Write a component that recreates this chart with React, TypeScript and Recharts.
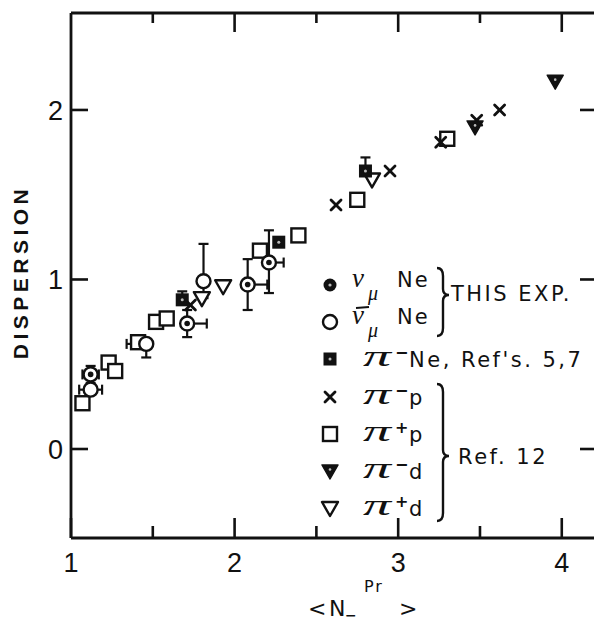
import { ScatterChart, Scatter, XAxis, YAxis, ErrorBar } from 'recharts';

// axis setup
const X_TICKS = [1, 1.5, 2, 2.5, 3, 3.5, 4];
const Y_TICKS = [0, 1, 2];
const X_DOMAIN = [1, 4.197];
const Y_DOMAIN = [-0.525, 2.572];

// nu_mu Ne, this experiment
const nuNe = [
  { x: 1.12, y: 0.44, ex: 0.05, ey: 0.05 },
  { x: 1.71, y: 0.74, ex: [0, 0.12], ey: 0.08 },
  { x: 2.08, y: 0.97, ex: [0, 0.12], ey: 0.15 },
  { x: 2.21, y: 1.1, ex: [0, 0.09], ey: [0.18, 0.19] },
];

// anti-nu_mu Ne, this experiment
const nubarNe = [
  { x: 1.12, y: 0.35, ex: 0.07, ey: 0 },
  { x: 1.46, y: 0.62, ex: [0.12, 0], ey: [0.08, 0] },
  { x: 1.81, y: 0.99, ex: 0, ey: [0.1, 0.22] },
];

// pi- Ne, Ref's 5,7
const piMinusNe = [
  { x: 1.68, y: 0.88, ex: 0, ey: [0, 0.05] },
  { x: 2.27, y: 1.22, ex: 0, ey: 0 },
  { x: 2.8, y: 1.64, ex: 0, ey: [0, 0.08] },
];

// Ref. 12
const piMinusP = [
  { x: 1.73, y: 0.85 },
  { x: 2.62, y: 1.44 },
  { x: 2.95, y: 1.64 },
  { x: 3.26, y: 1.81 },
  { x: 3.48, y: 1.94 },
  { x: 3.62, y: 2.0 },
];
const piPlusP = [
  { x: 1.07, y: 0.27 },
  { x: 1.23, y: 0.51 },
  { x: 1.27, y: 0.46 },
  { x: 1.41, y: 0.63 },
  { x: 1.52, y: 0.75 },
  { x: 1.585, y: 0.77 },
  { x: 2.155, y: 1.17 },
  { x: 2.39, y: 1.26 },
  { x: 2.75, y: 1.47 },
  { x: 3.3, y: 1.83 },
];
const piMinusD = [
  { x: 3.47, y: 1.9 },
  { x: 3.96, y: 2.17 },
];
const piPlusD = [
  { x: 1.8, y: 0.89 },
  { x: 1.93, y: 0.96 },
  { x: 2.84, y: 1.59 },
];

const INK = '#111';
const FONT = '"Liberation Sans", Arial, sans-serif';
const LFONT = '"DejaVu Sans", sans-serif';
const SERIF = '"Liberation Serif", "DejaVu Serif", serif';
const PLOT_W = 523; // plot width, right frame sits at the page edge

// marker shapes
const NuDot = ({ cx, cy, legend }: any) =>
  legend ? (
    <g>
      <circle cx={cx} cy={cy} r={6.5} fill={INK} />
      <circle cx={cx} cy={cy} r={1.6} fill="#bbb" />
    </g>
  ) : (
    <g>
      <circle cx={cx} cy={cy} r={7} fill="#fff" stroke={INK} strokeWidth={2.4} />
      <circle cx={cx} cy={cy} r={2.8} fill={INK} />
    </g>
  );
const OpenCircle = ({ cx, cy }: any) => (
  <circle cx={cx} cy={cy} r={7} fill="#fff" stroke={INK} strokeWidth={2.4} />
);
const FilledSquare = ({ cx, cy }: any) => (
  <g>
    <rect x={cx - 6.5} y={cy - 6.5} width={13} height={13} fill={INK} />
    <circle cx={cx} cy={cy} r={1.5} fill="#bbb" />
  </g>
);
const Cross = ({ cx, cy }: any) => (
  <g stroke={INK} strokeWidth={2.8} strokeLinecap="round">
    <line x1={cx - 5} y1={cy - 5} x2={cx + 5} y2={cy + 5} />
    <line x1={cx - 5} y1={cy + 5} x2={cx + 5} y2={cy - 5} />
  </g>
);
const OpenSquare = ({ cx, cy }: any) => (
  <rect x={cx - 7} y={cy - 7} width={14} height={14} fill="#fff" stroke={INK} strokeWidth={2.4} />
);
const FilledTri = ({ cx, cy }: any) => (
  <g>
    <path d={`M${cx - 8},${cy - 6} L${cx + 8},${cy - 6} L${cx},${cy + 8} Z`} fill={INK} stroke={INK} strokeWidth={1.5} strokeLinejoin="round" />
    <circle cx={cx} cy={cy - 1.5} r={1.3} fill="#bbb" />
  </g>
);
const OpenTri = ({ cx, cy }: any) => (
  <path d={`M${cx - 8},${cy - 6} L${cx + 8},${cy - 6} L${cx},${cy + 8} Z`} fill="#fff" stroke={INK} strokeWidth={2.4} strokeLinejoin="round" />
);

// ticks drawn inward
const BottomTick = ({ x, y, payload }: any) => {
  const major = Number.isInteger(payload.value);
  return (
    <g>
      <line x1={x} y1={y} x2={x} y2={y - (major ? 20 : 12)} stroke={INK} strokeWidth={2.6} />
      {major && (
        <text x={x} y={y + 34} textAnchor="middle" fontSize={27} fill={INK} fontFamily={FONT}>
          {payload.value}
        </text>
      )}
    </g>
  );
};
const TopTick = ({ x, y, payload }: any) => {
  const major = Number.isInteger(payload.value);
  if (payload.value === 1) return null;
  return <line x1={x} y1={y} x2={x} y2={y + (major ? 19 : 10)} stroke={INK} strokeWidth={2.6} />;
};
// left tick with label, plus the matching inward tick on the right frame
const LeftTick = ({ x, y, payload }: any) => (
  <g>
    <line x1={x} y1={y} x2={x + 17} y2={y} stroke={INK} strokeWidth={2.6} />
    <line x1={x + PLOT_W} y1={y} x2={x + PLOT_W - 14} y2={y} stroke={INK} strokeWidth={2.6} />
    <text x={x - 8} y={y + 10} textAnchor="end" fontSize={27} fill={INK} fontFamily={FONT}>
      {payload.value}
    </text>
  </g>
);

const Brace = ({ x, top, bottom, tip }: any) => (
  <path
    d={`M${x},${top} Q${x + 6},${top} ${x + 6},${top + 8} L${x + 6},${tip - 6} Q${x + 6},${tip} ${x + 12},${tip} Q${x + 6},${tip} ${x + 6},${tip + 6} L${x + 6},${bottom - 8} Q${x + 6},${bottom} ${x},${bottom}`}
    fill="none"
    stroke={INK}
    strokeWidth={2.4}
  />
);

const LX = 330; // legend marker column
const ROWS = [285, 322, 359, 397, 434, 471, 508];

const PiLabel = ({ y, sign, rest }: any) => (
  <g fill={INK}>
    <text x={363} y={y + 7} fontSize={30} fontStyle="italic" fontFamily={SERIF} textLength={28} lengthAdjust="spacingAndGlyphs">
      π
    </text>
    <text x={395} y={y - 1} fontSize={16} fontFamily={LFONT} fontWeight="bold">
      {sign}
    </text>
    <text x={409} y={y + 8} fontSize={21} letterSpacing={2.5} fontFamily={LFONT}>
      {rest}
    </text>
  </g>
);

const NuLabel = ({ y, bar }: any) => (
  <g fill={INK}>
    <text x={352} y={y + 2} fontSize={27} fontStyle="italic" fontFamily={SERIF}>
      ν
    </text>
    {bar && <line x1={356} y1={y - 14} x2={369} y2={y - 15} stroke={INK} strokeWidth={2} />}
    <text x={368} y={y + 15} fontSize={20} fontStyle="italic" fontFamily={SERIF}>
      μ
    </text>
    <text x={397} y={y + 2} fontSize={21} letterSpacing={2} fontFamily={LFONT}>
      Ne
    </text>
  </g>
);

export default function App() {
  return (
    <div style={{ position: 'absolute', left: 0, top: 0, background: '#fff' }}>
      <ScatterChart width={594} height={622} margin={{ top: 0, right: 0, bottom: 0, left: 0 }}>
        <XAxis
          type="number"
          dataKey="x"
          domain={X_DOMAIN}
          ticks={X_TICKS}
          interval={0}
          height={84}
          tickSize={0}
          tickMargin={0}
          tickLine={false}
          axisLine={{ stroke: INK, strokeWidth: 2.8 }}
          tick={<BottomTick />}
          allowDataOverflow
        />
        <XAxis
          xAxisId="t"
          orientation="top"
          type="number"
          dataKey="x"
          domain={X_DOMAIN}
          ticks={X_TICKS}
          interval={0}
          height={13}
          tickSize={0}
          tickMargin={0}
          tickLine={false}
          axisLine={{ stroke: INK, strokeWidth: 2.8 }}
          tick={<TopTick />}
          allowDataOverflow
        />
        <YAxis
          type="number"
          dataKey="y"
          domain={Y_DOMAIN}
          ticks={Y_TICKS}
          interval={0}
          width={71}
          tickSize={0}
          tickMargin={0}
          tickLine={false}
          axisLine={{ stroke: INK, strokeWidth: 2.8 }}
          tick={<LeftTick />}
          allowDataOverflow
        />

        <Scatter data={piPlusP} shape={OpenSquare} isAnimationActive={false} />
        <Scatter data={piMinusP} shape={Cross} isAnimationActive={false} />
        <Scatter data={piPlusD} shape={OpenTri} isAnimationActive={false} />
        <Scatter data={piMinusD} shape={FilledTri} isAnimationActive={false} />
        <Scatter data={piMinusNe} shape={FilledSquare} isAnimationActive={false}>
          <ErrorBar dataKey="ey" direction="y" width={5} stroke={INK} strokeWidth={2.2} isAnimationActive={false} />
        </Scatter>
        <Scatter data={nubarNe} shape={OpenCircle} isAnimationActive={false}>
          <ErrorBar dataKey="ey" direction="y" width={5} stroke={INK} strokeWidth={2.2} isAnimationActive={false} />
          <ErrorBar dataKey="ex" direction="x" width={5} stroke={INK} strokeWidth={2.2} isAnimationActive={false} />
        </Scatter>
        <Scatter data={nuNe} shape={NuDot} isAnimationActive={false}>
          <ErrorBar dataKey="ey" direction="y" width={5} stroke={INK} strokeWidth={2.2} isAnimationActive={false} />
          <ErrorBar dataKey="ex" direction="x" width={5} stroke={INK} strokeWidth={2.2} isAnimationActive={false} />
        </Scatter>

        {/* axis titles */}
        <text
          x={28}
          y={272}
          transform="rotate(-90 28 272)"
          textAnchor="middle"
          fontSize={21}
          fontWeight="bold"
          letterSpacing={4.5}
          fill={INK}
          fontFamily={FONT}
        >
          DISPERSION
        </text>
        <g fill={INK} fontFamily={LFONT}>
          <text x={308} y={616} fontSize={22}>&lt;</text>
          <text x={329} y={616} fontSize={22}>N</text>
          <text x={345} y={620} fontSize={14} fontWeight="bold">−</text>
          <text x={364} y={592} fontSize={16} letterSpacing={2}>Pr</text>
          <text x={399} y={616} fontSize={22}>&gt;</text>
        </g>

        {/* legend */}
        <NuDot cx={LX} cy={ROWS[0]} legend />
        <OpenCircle cx={LX} cy={ROWS[1]} />
        <FilledSquare cx={LX} cy={ROWS[2]} />
        <Cross cx={LX} cy={ROWS[3]} />
        <OpenSquare cx={LX} cy={ROWS[4]} />
        <FilledTri cx={LX} cy={ROWS[5]} />
        <OpenTri cx={LX} cy={ROWS[6]} />

        <NuLabel y={ROWS[0]} />
        <NuLabel y={ROWS[1]} bar />
        <PiLabel y={ROWS[2]} sign="−" rest="Ne, Ref's. 5,7" />
        <PiLabel y={ROWS[3]} sign="−" rest="p" />
        <PiLabel y={ROWS[4]} sign="+" rest="p" />
        <PiLabel y={ROWS[5]} sign="−" rest="d" />
        <PiLabel y={ROWS[6]} sign="+" rest="d" />

        <Brace x={437} top={268} bottom={336} tip={295} />
        <text x={451} y={301} fontSize={21} letterSpacing={2.5} fill={INK} fontFamily={LFONT}>
          THIS EXP.
        </text>
        <Brace x={437} top={384} bottom={521} tip={456} />
        <text x={458} y={464} fontSize={21} letterSpacing={2.5} fill={INK} fontFamily={LFONT}>
          Ref. 12
        </text>
      </ScatterChart>
    </div>
  );
}
